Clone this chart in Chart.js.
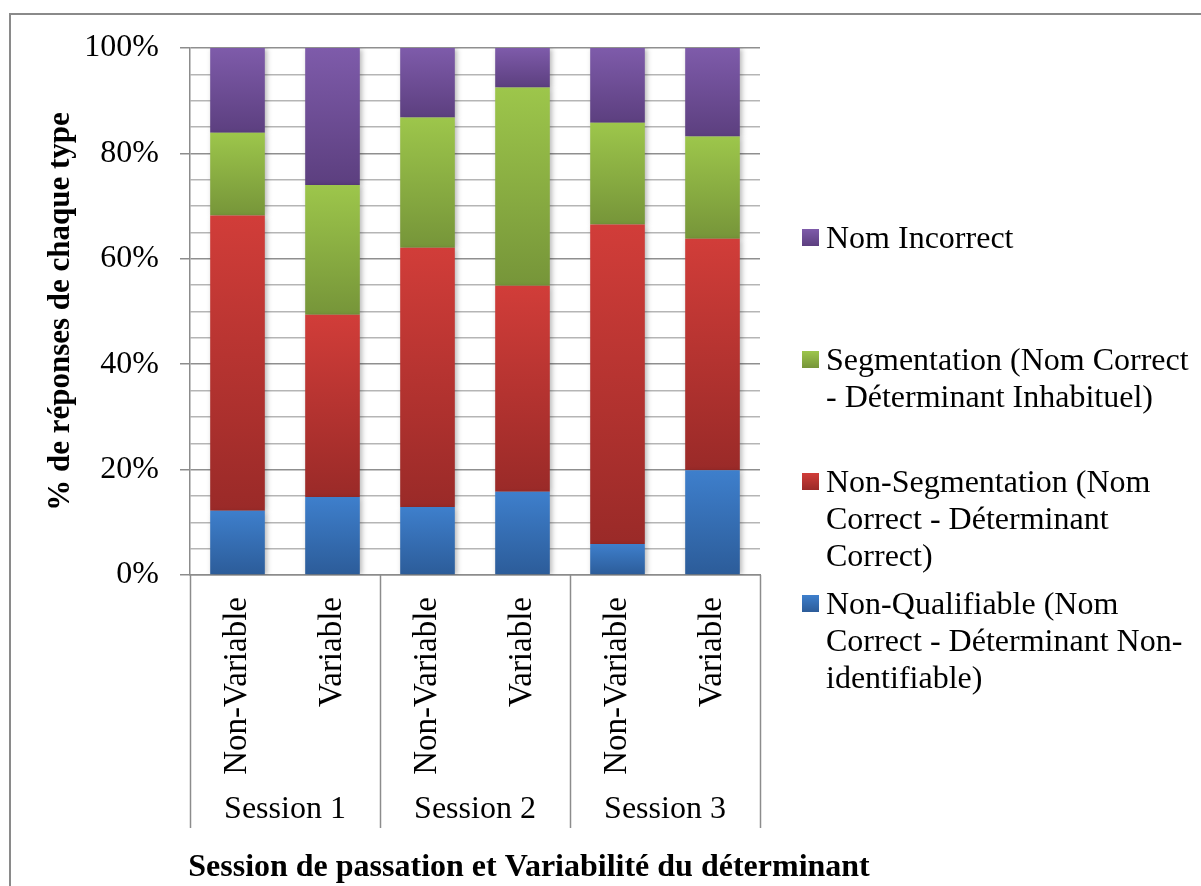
<!DOCTYPE html>
<html>
<head>
<meta charset="utf-8">
<script src="https://cdn.jsdelivr.net/npm/chart.js@4/dist/chart.umd.min.js"></script>
<style>
  html, body { margin: 0; padding: 0; background: #fff; }
  body { width: 1201px; height: 886px; position: relative; overflow: hidden; font-family: "Liberation Serif", "Times New Roman", serif; }
  #frame { position: absolute; left: 9px; top: 13px; width: 1200px; height: 900px; border: 2px solid #8a8a8a; box-sizing: border-box; }
  #chart { position: absolute; left: 0; top: 0; }
  .leg { position: absolute; left: 802px; font-size: 32px; line-height: 37px; color: #000; white-space: nowrap; }
  .leg .sw { position: absolute; left: 0; top: 10px; width: 17px; height: 17px; }
  .leg .tx { margin-left: 24px; }
</style>
</head>
<body>
<div id="frame"></div>
<canvas id="chart" width="1201" height="886"></canvas>
<div id="legend"></div>

<script>
/* ===== DATA ===== */

const categories = ["Non-Variable", "Variable", "Non-Variable", "Variable", "Non-Variable", "Variable"];
const sessions = ["Session 1", "Session 2", "Session 3"];

const nonQualifiable = [12.2, 14.8, 12.9, 15.8, 5.9, 19.9];
const nonSegmentation = [56.0, 34.6, 49.2, 39.1, 60.6, 43.9];
const segmentation = [15.7, 24.6, 24.7, 37.6, 19.3, 19.4];
const nomIncorrect = [16.1, 26.0, 13.2, 7.5, 14.2, 16.8];

const legendLines = {
  purple: ["Nom Incorrect"],
  green: ["Segmentation (Nom Correct", "- Déterminant Inhabituel)"],
  red: ["Non-Segmentation (Nom", "Correct - Déterminant", "Correct)"],
  blue: ["Non-Qualifiable (Nom", "Correct - Déterminant Non-", "identifiable)"]
};

const xTitle = "Session de passation et Variabilité du déterminant";
const yTitle = "% de réponses de chaque type";

/* ===== HELPERS ===== */

const FONT = "'Liberation Serif', 'Times New Roman', serif";

const palette = {
  blue: ["#3e7fcc", "#2c5c99"],
  red: ["#d13d39", "#9a2a28"],
  green: ["#9dc64b", "#769539"],
  purple: ["#7e5baa", "#5c3f7f"]
};

function gradientFill(key) {
  const [top, bottom] = palette[key];
  return (ctx) => {
    const chart = ctx.chart;
    const { chartArea, scales } = chart;
    if (!chartArea || ctx.type !== "data" || !scales.y) return bottom;
    const i = ctx.dataIndex;
    const d = ctx.datasetIndex;
    let base = 0;
    for (let k = 0; k < d; k++) base += chart.data.datasets[k].data[i];
    const yTop = scales.y.getPixelForValue(base + chart.data.datasets[d].data[i]);
    const yBot = scales.y.getPixelForValue(base);
    if (!isFinite(yTop) || !isFinite(yBot) || yTop === yBot) return bottom;
    const g = chart.ctx.createLinearGradient(0, yTop, 0, yBot);
    g.addColorStop(0, top);
    g.addColorStop(1, bottom);
    return g;
  };
}

function dataset(label, data, key) {
  return {
    label,
    data,
    backgroundColor: gradientFill(key),
    borderWidth: 0,
    categoryPercentage: 1,
    barPercentage: 0.575
  };
}

/* ===== LEGEND (html) ===== */

function buildLegend() {
  const box = document.getElementById("legend");
  const items = [
    { key: "purple", top: 219 },
    { key: "green", top: 341 },
    { key: "red", top: 463 },
    { key: "blue", top: 585 }
  ];
  box.innerHTML = items.map(it => {
    const grad = `linear-gradient(${palette[it.key][0]}, ${palette[it.key][1]})`;
    return `<div class="leg" style="top:${it.top}px"><span class="sw" style="background:${grad}"></span>` +
      `<div class="tx">${legendLines[it.key].join("<br>")}</div></div>`;
  }).join("");
}

/* ===== PLUGINS ===== */

const barShadow = {
  id: "barShadow",
  beforeDatasetsDraw(chart) {
    const c = chart.ctx;
    c.save();
    c.shadowColor = "rgba(0,0,0,0.28)";
    c.shadowBlur = 5;
    c.shadowOffsetX = 2;
    c.shadowOffsetY = 1;
  },
  afterDatasetsDraw(chart) {
    chart.ctx.restore();
  }
};

const groupAxis = {
  id: "groupAxis",
  afterDraw(chart) {
    const c = chart.ctx;
    const x = chart.scales.x;
    const bottom = chart.chartArea.bottom;
    const step = x.getPixelForValue(1) - x.getPixelForValue(0);
    c.save();
    c.strokeStyle = "#8c8c8c";
    c.lineWidth = 1.5;
    for (let g = 0; g <= sessions.length; g++) {
      const px = Math.round(x.getPixelForValue(g * 2) - step / 2) + 0.5;
      c.beginPath();
      c.moveTo(px, bottom);
      c.lineTo(px, 828);
      c.stroke();
    }
    c.fillStyle = "#000";
    c.textAlign = "center";
    c.textBaseline = "middle";
    c.font = `32px ${FONT}`;
    sessions.forEach((s, g) => {
      const cx = (x.getPixelForValue(g * 2) + x.getPixelForValue(g * 2 + 1)) / 2;
      c.fillText(s, cx, 810);
    });
    c.font = `bold 32px ${FONT}`;
    c.fillText(xTitle, 529, 868);
    c.restore();
  }
};

/* ===== CHART ===== */

function initChart() {
  new Chart(document.getElementById("chart"), {
    type: "bar",
    data: {
      labels: categories,
      datasets: [
        dataset("Non-Qualifiable (Nom Correct - Déterminant Non-identifiable)", nonQualifiable, "blue"),
        dataset("Non-Segmentation (Nom Correct - Déterminant Correct)", nonSegmentation, "red"),
        dataset("Segmentation (Nom Correct - Déterminant Inhabituel)", segmentation, "green"),
        dataset("Nom Incorrect", nomIncorrect, "purple")
      ]
    },
    options: {
      responsive: false,
      animation: false,
      devicePixelRatio: 1,
      layout: { padding: { top: 48, right: 441, bottom: 0, left: 0 } },
      plugins: {
        legend: { display: false },
        tooltip: { enabled: false }
      },
      scales: {
        x: {
          stacked: true,
          grid: { display: false },
          border: { display: true, color: "#8c8c8c", width: 1.5 },
          ticks: {
            color: "#000",
            font: { family: FONT, size: 33 },
            minRotation: 90,
            maxRotation: 90,
            padding: 14,
            autoSkip: false
          },
          afterFit(scale) { scale.height = 311; }
        },
        y: {
          stacked: true,
          min: 0,
          max: 100,
          border: { display: true, color: "#8c8c8c", width: 1.5 },
          grid: {
            color: (ctx) => ctx.tick && ctx.tick.value % 20 === 0 ? "#8f8f8f" : "#b5b5b5",
            lineWidth: 1.5,
            tickLength: 10,
            tickColor: (ctx) => ctx.tick && ctx.tick.value % 20 === 0 ? "#8c8c8c" : "rgba(0,0,0,0)"
          },
          ticks: {
            stepSize: 5,
            autoSkip: false,
            padding: 21,
            color: "#000",
            font: { family: FONT, size: 32 },
            callback: (v) => v % 20 === 0 ? v + "%" : ""
          },
          title: {
            display: true,
            text: yTitle,
            color: "#000",
            font: { family: FONT, size: 31, weight: "bold" },
            padding: { top: 42, bottom: 0 }
          },
          afterFit(scale) { scale.width = 190; }
        }
      }
    },
    plugins: [barShadow, groupAxis]
  });
}

document.addEventListener("DOMContentLoaded", () => {
  buildLegend();
  initChart();
});
</script>
</body>
</html>
